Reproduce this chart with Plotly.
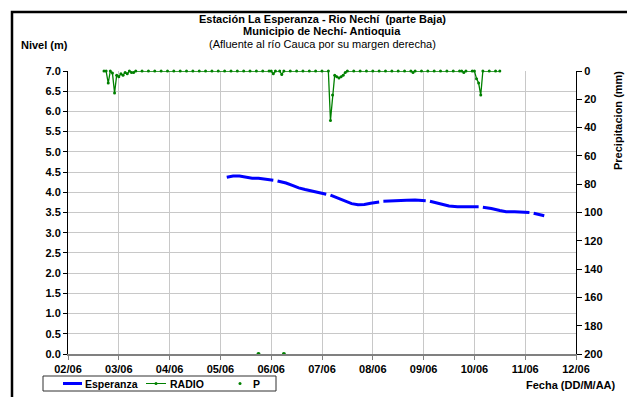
import plotly.graph_objects as go

# ---------------- data ----------------
nivel_fechas = [
    "2010-06-05 03:00", "2010-06-05 06:00", "2010-06-05 09:00", "2010-06-05 12:00",
    "2010-06-05 15:00", "2010-06-05 18:00", "2010-06-05 21:00", "2010-06-06 01:00",
    "2010-06-06 02:00", "2010-06-06 03:00", "2010-06-06 07:00", "2010-06-06 10:00",
    "2010-06-06 13:00", "2010-06-06 16:00", "2010-06-06 19:00", "2010-06-06 22:00",
    "2010-06-07 02:00", "2010-06-07 03:00", "2010-06-07 04:00", "2010-06-07 08:00",
    "2010-06-07 11:00", "2010-06-07 14:00", "2010-06-07 17:00", "2010-06-07 20:00",
    "2010-06-07 23:00", "2010-06-08 03:00", "2010-06-08 04:00", "2010-06-08 05:00",
    "2010-06-08 08:00", "2010-06-08 12:00", "2010-06-08 16:00", "2010-06-08 20:00",
    "2010-06-09 01:00", "2010-06-09 02:00", "2010-06-09 03:00", "2010-06-09 06:00",
    "2010-06-09 09:00", "2010-06-09 12:00", "2010-06-09 16:00", "2010-06-09 20:00",
    "2010-06-10 00:00", "2010-06-10 02:00", "2010-06-10 03:00", "2010-06-10 04:00",
    "2010-06-10 08:00", "2010-06-10 12:00", "2010-06-10 15:00", "2010-06-10 19:00",
    "2010-06-10 23:00", "2010-06-11 02:00", "2010-06-11 03:00", "2010-06-11 04:00",
    "2010-06-11 07:00", "2010-06-11 09:00",
]
nivel_esperanza = [
    4.37, 4.40, 4.40, 4.37,
    4.35, 4.35, 4.33, 4.30,
    None, 4.28, 4.23, 4.17,
    4.11, 4.07, 4.03, 3.99,
    3.95, None, 3.93, 3.85,
    3.79, 3.72, 3.69, 3.70,
    3.73, 3.76, None, 3.78,
    3.79, 3.79, 3.80, 3.81,
    3.79, None, 3.78, 3.74,
    3.70, 3.66, 3.64, 3.64,
    3.64, 3.64, None, 3.63,
    3.60, 3.55, 3.52, 3.52,
    3.51, 3.50, None, 3.48,
    3.44, 3.42,
]

radio_fechas = [
    "2010-06-02 17:00", "2010-06-02 18:00", "2010-06-02 19:00", "2010-06-02 20:00",
    "2010-06-02 21:00", "2010-06-02 22:00", "2010-06-02 23:00", "2010-06-03 00:00",
    "2010-06-03 01:00", "2010-06-03 02:00", "2010-06-03 03:00", "2010-06-03 04:00",
    "2010-06-03 05:00", "2010-06-03 06:00", "2010-06-03 07:00", "2010-06-03 08:00",
    "2010-06-03 11:00", "2010-06-03 14:00", "2010-06-03 17:00", "2010-06-03 20:00",
    "2010-06-03 23:00", "2010-06-04 02:00", "2010-06-04 05:00", "2010-06-04 08:00",
    "2010-06-04 11:00", "2010-06-04 14:00", "2010-06-04 17:00", "2010-06-04 20:00",
    "2010-06-04 23:00", "2010-06-05 02:00", "2010-06-05 05:00", "2010-06-05 08:00",
    "2010-06-05 11:00", "2010-06-05 14:00", "2010-06-05 17:00", "2010-06-05 20:00",
    "2010-06-05 23:00", "2010-06-06 00:00", "2010-06-06 01:00", "2010-06-06 02:00",
    "2010-06-06 04:00", "2010-06-06 05:00", "2010-06-06 06:00", "2010-06-06 09:00",
    "2010-06-06 12:00", "2010-06-06 15:00", "2010-06-06 18:00", "2010-06-06 21:00",
    "2010-06-07 00:00", "2010-06-07 03:00", "2010-06-07 04:00", "2010-06-07 05:00",
    "2010-06-07 06:00", "2010-06-07 07:00", "2010-06-07 08:00", "2010-06-07 09:00",
    "2010-06-07 10:00", "2010-06-07 11:00", "2010-06-07 12:00", "2010-06-07 15:00",
    "2010-06-07 18:00", "2010-06-07 21:00", "2010-06-08 00:00", "2010-06-08 03:00",
    "2010-06-08 06:00", "2010-06-08 09:00", "2010-06-08 12:00", "2010-06-08 15:00",
    "2010-06-08 18:00", "2010-06-08 19:00", "2010-06-08 20:00", "2010-06-08 23:00",
    "2010-06-09 02:00", "2010-06-09 05:00", "2010-06-09 08:00", "2010-06-09 11:00",
    "2010-06-09 14:00", "2010-06-09 17:00", "2010-06-09 18:00", "2010-06-09 19:00",
    "2010-06-09 20:00", "2010-06-09 23:00", "2010-06-10 00:00", "2010-06-10 01:00",
    "2010-06-10 02:00", "2010-06-10 03:00", "2010-06-10 04:00", "2010-06-10 07:00",
    "2010-06-10 10:00", "2010-06-10 12:00",
]
radio_precip = [
    0, 0, 8.5, 0,
    1.5, 15.5, 3, 4,
    2, 3, 1, 2,
    0, 1, 1, 0,
    0, 0, 0, 0,
    0, 0, 0, 0,
    0, 0, 0, 0,
    0, 0, 0, 0,
    0, 0, 0, 0,
    0, 0, 2, 0,
    0, 2.5, 0, 0,
    0, 0, 0, 0,
    0, 0, 35, 17,
    3, 4, 5, 4,
    3, 1, 0, 0,
    0, 0, 0, 0,
    0, 0, 0, 0,
    0, 1, 0, 0,
    0, 0, 0, 0,
    0, 0, 0, 1,
    0, 0, 0, 5.4,
    8.5, 17, 0, 0,
    0, 0,
]

p_fechas = ["2010-06-05 18:00", "2010-06-06 06:00"]
p_valores = [0, 0]

x_ticks = ["02/06", "03/06", "04/06", "05/06", "06/06", "07/06",
           "08/06", "09/06", "10/06", "11/06", "12/06"]

series_names = ["Esperanza", "RADIO", "P"]

# ---------------- figure ----------------
FONT = "Liberation Sans, Arial, sans-serif"
W, H = 627, 397
L, R, T, B = 68, 51, 71, 43
PW, PH = W - L - R, H - T - B
BLUE, GREEN = "#0000FF", "#008000"

def px(x):
    return (x - L) / PW

def py(y):
    return (H - B - y) / PH

fig = go.Figure()
fig.add_trace(go.Scatter(
    x=nivel_fechas, y=nivel_esperanza, name=series_names[0], mode="lines",
    line=dict(color=BLUE, width=3), connectgaps=False, yaxis="y"))
fig.add_trace(go.Scatter(
    x=radio_fechas, y=radio_precip, name=series_names[1], mode="lines+markers",
    line=dict(color=GREEN, width=1.3), marker=dict(color=GREEN, size=3),
    yaxis="y2", cliponaxis=False))
fig.add_trace(go.Scatter(
    x=p_fechas, y=p_valores, name=series_names[2], mode="markers",
    marker=dict(color=GREEN, size=4), yaxis="y", cliponaxis=False))

tick_vals = ["2010-06-%02d" % (i + 2) for i in range(len(x_ticks))]

fig.update_layout(
    width=W, height=H,
    margin=dict(l=L, r=R, t=T, b=B, autoexpand=False),
    paper_bgcolor="white", plot_bgcolor="white",
    font=dict(family=FONT, size=11, color="black"),
    showlegend=False,
    xaxis=dict(type="date", range=["2010-06-02", "2010-06-12"],
               tickvals=tick_vals, ticktext=x_ticks, automargin=False,
               showgrid=True, gridcolor="#C8C8C8", gridwidth=1,
               showline=True, linecolor="#808080", linewidth=1.5,
               ticks="outside", ticklen=4, tickcolor="#808080",
               tickfont=dict(family=FONT, size=11, weight="bold"),
               zeroline=False),
    yaxis=dict(range=[0, 7], dtick=0.5, tick0=0, tickformat=".1f", automargin=False,
               showgrid=True, gridcolor="#C8C8C8", gridwidth=1,
               showline=True, linecolor="black", linewidth=1,
               ticks="outside", ticklen=4, tickcolor="black",
               tickfont=dict(family=FONT, size=11, weight="bold"),
               zeroline=False),
    yaxis2=dict(range=[200, 0], dtick=20, tick0=0, overlaying="y", side="right",
                automargin=False,
                showgrid=False, showline=True, linecolor="black", linewidth=1,
                ticks="outside", ticklen=5, tickcolor="black",
                tickfont=dict(family=FONT, size=11, weight="bold"),
                zeroline=False),
)

def note(text, x, y, size=11, xanchor="center", angle=0):
    fig.add_annotation(xref="paper", yref="paper", showarrow=False,
                       text=text, x=px(x), y=py(y), xanchor=xanchor,
                       yanchor="middle", textangle=angle,
                       font=dict(family=FONT, size=size, color="black"))

note("<b>Estación La Esperanza - Rio Nechí  (parte Baja)</b>", 322, 19)
note("<b>Municipio de Nechí- Antioquia</b>", 322, 31)
note("(Afluente al río Cauca por su margen derecha)", 322, 44)
note("<b>Nivel (m)</b>", 19, 45, xanchor="left")
note("<b>Precipitacion (mm)</b>", 618, 121, angle=-90)
note("<b>Fecha (DD/M/AA)</b>", 524, 385, xanchor="left")

# ---- legend box (drawn to match the compact original legend) ----
def pshape(**kw):
    fig.add_shape(xref="paper", yref="paper", **kw)

pshape(type="rect", x0=px(43), x1=px(276), y0=py(391), y1=py(376),
       line=dict(color="#303030", width=1), fillcolor="white", layer="above")
ly = 383.5
pshape(type="line", x0=px(63), x1=px(82), y0=py(ly), y1=py(ly),
       line=dict(color=BLUE, width=3), layer="above")
note("<b>%s</b>" % series_names[0], 83, ly + 0.5, size=10.5, xanchor="left")
pshape(type="line", x0=px(146), x1=px(166), y0=py(ly), y1=py(ly),
       line=dict(color=GREEN, width=1), layer="above")
pshape(type="circle", x0=px(154.5), x1=px(157.5), y0=py(ly + 1.5), y1=py(ly - 1.5),
       line=dict(color=GREEN, width=0), fillcolor=GREEN, layer="above")
note("<b>%s</b>" % series_names[1], 168, ly + 0.5, size=10.5, xanchor="left")
pshape(type="circle", x0=px(238.5), x1=px(241.5), y0=py(ly + 1.5), y1=py(ly - 1.5),
       line=dict(color=GREEN, width=0), fillcolor=GREEN, layer="above")
note("<b>%s</b>" % series_names[2], 251, ly + 0.5, size=10.5, xanchor="left")

# outer chart frame
pshape(type="rect", x0=px(12), y0=py(420), x1=px(660), y1=py(12),
       line=dict(color="black", width=2.5), fillcolor="rgba(0,0,0,0)",
       layer="above")

fig.write_html("out.html",
               config={"displayModeBar": False},
               post_script="document.body.style.margin='0';"
                           "document.body.style.overflow='hidden';")
